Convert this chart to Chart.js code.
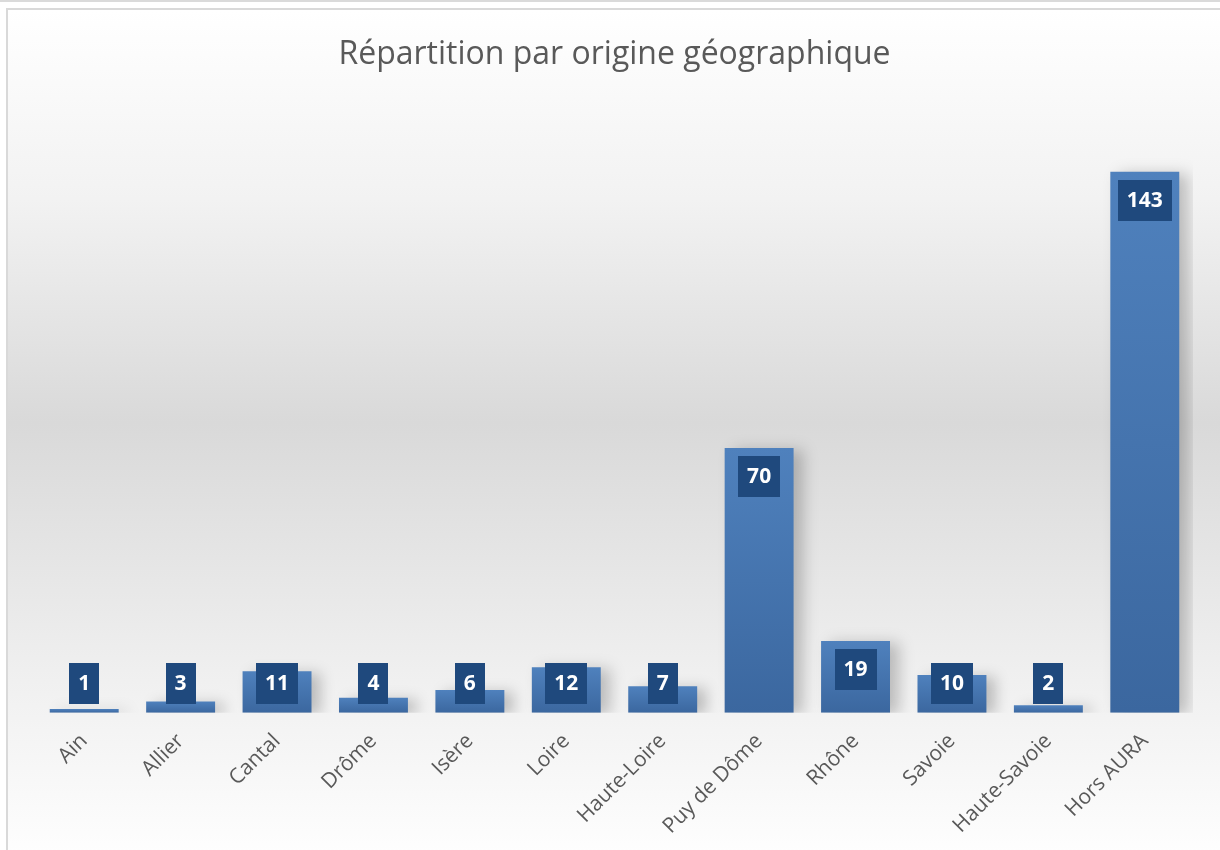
<!DOCTYPE html>
<html>
<head>
<meta charset="utf-8">
<script src="https://cdn.jsdelivr.net/npm/chart.js@4.4.1/dist/chart.umd.min.js"></script>
<style>
  html, body { margin: 0; padding: 0; background: #fff; }
  body { width: 1220px; height: 850px; position: relative; overflow: hidden; }
  .topline { position: absolute; left: 0; top: 0; width: 1220px; height: 2px; background: #dadada; }
  .frame {
    position: absolute; left: 6px; top: 8px; width: 1230px; height: 860px;
    border-left: 2px solid #d9d9d9; border-top: 2px solid #d9d9d9;
    background: linear-gradient(to bottom, #ffffff 0%, #f2f2f2 22%, #d9d9d9 48%, #f0f0f0 78%, #ffffff 100%);
  }
  #wrap { position: absolute; left: 0; top: 0; width: 1220px; height: 850px; }
</style>
</head>
<body>
<div class="topline"></div>
<div class="frame"></div>
<div id="wrap"><canvas id="myChart"></canvas></div>
<script>
const categories = ['Ain', 'Allier', 'Cantal', 'Drôme', 'Isère', 'Loire', 'Haute-Loire', 'Puy de Dôme', 'Rhône', 'Savoie', 'Haute-Savoie', 'Hors AURA']
const values = [1, 3, 11, 4, 6, 12, 7, 70, 19, 10, 2, 143]
const chartTitle = 'Répartition par origine géographique'

// vertical gradient per bar, lighter at the top
const barGradient = context => {
  const { chart } = context
  const y = chart.scales.y
  if (!chart.chartArea || !y) return '#4a7ab6'
  const top = y.getPixelForValue(context.raw)
  const base = y.getPixelForValue(0)
  if (!Number.isFinite(top) || !Number.isFinite(base) || base - top < 1) return '#4a7ab6'
  const g = chart.ctx.createLinearGradient(0, top, 0, base)
  g.addColorStop(0, '#4f81bd')
  g.addColorStop(1, '#3b679f')
  return g
}

const barShadow = {
  id: 'barShadow',
  beforeDatasetDraw(chart) {
    const ctx = chart.ctx
    ctx.save()
    ctx.shadowColor = 'rgba(0,0,0,0.22)'
    ctx.shadowBlur = 14
    ctx.shadowOffsetX = 9
    ctx.shadowOffsetY = 2
  },
  afterDatasetDraw(chart) {
    chart.ctx.restore()
  }
}

const valueBoxes = {
  id: 'valueBoxes',
  afterDatasetsDraw(chart) {
    const ctx = chart.ctx
    const meta = chart.getDatasetMeta(0)
    ctx.save()
    ctx.font = 'bold 21px "Open Sans"'
    ctx.textAlign = 'center'
    ctx.textBaseline = 'middle'
    meta.data.forEach((bar, i) => {
      const txt = String(values[i])
      const w = ctx.measureText(txt).width + 18
      const h = 41
      const cy = Math.min(bar.y + 28.5, bar.base - 29.5)
      ctx.fillStyle = '#1f497d'
      ctx.fillRect(Math.round(bar.x - w / 2), Math.round(cy - h / 2), Math.round(w), h)
      ctx.fillStyle = '#ffffff'
      ctx.fillText(txt, bar.x, cy + 1)
    })
    ctx.restore()
  }
}

new Chart('myChart', {
  type: 'bar',
  data: {
    labels: categories,
    datasets: [{
      data: values,
      backgroundColor: barGradient,
      borderWidth: 0,
      barPercentage: 0.715,
      categoryPercentage: 1
    }]
  },
  options: {
    responsive: true,
    maintainAspectRatio: false,
    animation: false,
    layout: { padding: { left: 36, right: 27, top: 0, bottom: 3 } },
    plugins: {
      legend: { display: false },
      tooltip: { enabled: false },
      title: {
        display: true,
        text: chartTitle,
        color: '#595959',
        font: { family: 'Open Sans', size: 32, weight: 'normal' },
        padding: { top: 36, bottom: 33 }
      }
    },
    scales: {
      x: {
        grid: { display: false },
        border: { display: false },
        ticks: {
          color: '#595959',
          font: { family: 'Open Sans', size: 21 },
          minRotation: 45,
          maxRotation: 45,
          padding: 8
        }
      },
      y: {
        display: false,
        min: 0,
        max: 160
      }
    }
  },
  plugins: [barShadow, valueBoxes]
})
</script>
</body>
</html>
